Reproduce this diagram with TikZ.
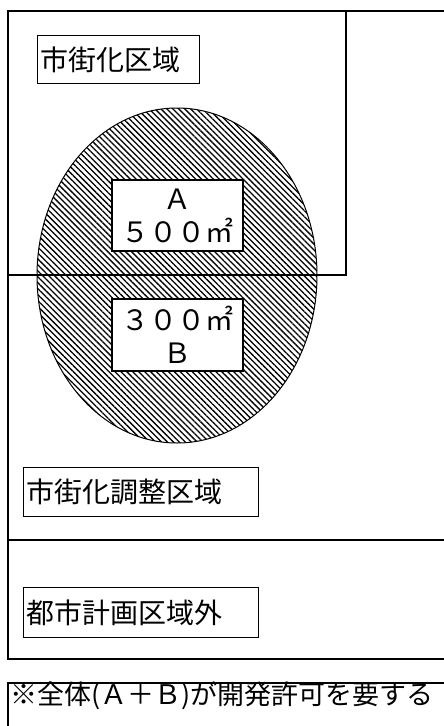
\documentclass[tikz,border=0pt]{standalone}
\usepackage{fontspec}
\newfontfamily\jp{Noto Sans CJK JP}
\usetikzlibrary{shapes.geometric,patterns.meta}

\begin{document}
\begin{tikzpicture}[
                    x=1pt, y=-1pt,
                    frame/.style={draw, line width=1.2pt},
                    lbl/.style={
                        draw,
                        fill=white,
                        line width=1.2pt,
                        inner xsep=3pt,
                        inner ysep=0pt,
                        anchor=north west,
                        align=left,
                        font=\jp\fontsize{28}{33}\selectfont
                    },
                    lot/.style={
                        draw,
                        fill=white,
                        line width=1.2pt,
                        inner sep=0pt,
                        minimum width=131,
                        align=center,
                        font=\jp\fontsize{28}{33}\selectfont
                    }
                ]
                    \clip (0,0) rectangle (444,726);

                    % development site
                    \node[ellipse, draw, line width=1pt, inner sep=0pt,
                          minimum width=280, minimum height=335,
                          pattern={Lines[angle=-45, distance=4.2pt, line width=1.3pt]}]
                          (site) at (177,275.5) {};

                    % Areas
                    \draw[frame] (460,11) -- (8,11) -- (8,659) -- (460,659);
                    \draw[frame] (8,540) -- (460,540);
                    \draw[frame] (8,275) -- (346,275) -- (346,11);
                    \draw[frame] (460,683) -- (8,683) -- (8,740);

                    \node[lbl, text width=156, minimum height=48] (urban) at (37,35) {市街化区域};
                    \node[lbl, text width=229, minimum height=49] (ctrl) at (23,467) {市街化調整区域};
                    \node[lbl, text width=229, minimum height=50] (outside) at (23,587) {都市計画区域外};

                    \node[lot, minimum height=71] (a) at (177.5,215.5) {Ａ\\５００㎡};
                    \node[lot, minimum height=72] (b) at (177.5,335) {３００㎡\\Ｂ};

                    \node[anchor=west, inner sep=0pt, font=\jp\fontsize{27}{33}\selectfont]
                          (note) at (10,696) {※全体(Ａ＋Ｂ)が開発許可を要する};
                \end{tikzpicture}
\end{document}
